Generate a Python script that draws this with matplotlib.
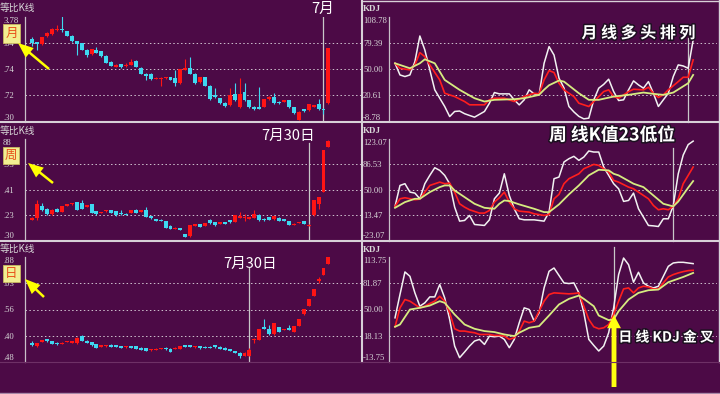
import matplotlib
matplotlib.use("Agg")
import numpy as np
import matplotlib.pyplot as plt
import matplotlib.patheffects as pe
from matplotlib.lines import Line2D
from matplotlib.patches import Rectangle, FancyArrowPatch

# 月K线 (61根)
month_o = [78.8, 75.6, 74.0, 81.4, 83.7, 87.2, 88.2, 86.2, 82.1, 76.6, 75.0, 68.6, 64.4, 68.6, 67.0, 62.8, 57.4, 52.6, 54.8, 52.9,
           54.2, 58.0, 51.6, 45.5, 45.5, 40.7, 41.0, 41.3, 42.3, 41.3, 36.5, 49.4, 51.0, 45.5, 37.5, 42.3, 34.0, 25.3, 22.1, 17.9,
           15.7, 26.0, 13.5, 28.5, 20.5, 14.1, 14.1, 14.1, 21.2, 23.7, 18.9, 18.9, 20.5, 13.5, 1.9, 11.5, 10.9, 14.1, 16.3, 12.2, 17.3]
month_c = [75.0, 74.4, 80.4, 84.6, 88.5, 88.2, 87.2, 82.1, 76.6, 74.4, 68.6, 63.8, 69.2, 66.0, 62.8, 56.4, 53.2, 54.5, 51.9, 54.2,
           57.4, 52.6, 45.5, 43.6, 40.4, 42.0, 42.0, 42.3, 39.7, 36.5, 50.0, 51.6, 45.5, 36.5, 42.3, 34.0, 21.2, 23.1, 17.3, 14.7,
           25.3, 20.5, 26.3, 20.5, 13.5, 11.5, 12.2, 21.2, 23.7, 17.3, 17.3, 20.5, 13.5, 7.7, 9.3, 9.9, 16.3, 15.7, 11.5, 10.9, 70.2]
month_h = [80.8, 76.0, 80.8, 86.0, 89.0, 92.6, 100.6, 87.0, 82.5, 77.0, 75.5, 69.0, 69.8, 71.2, 67.5, 63.2, 58.0, 55.0, 55.5, 56.0,
           59.6, 59.0, 52.5, 46.0, 46.0, 42.5, 42.5, 43.0, 43.0, 49.4, 50.5, 59.6, 61.5, 46.0, 43.0, 43.0, 34.5, 31.7, 22.5, 18.3,
           31.7, 36.5, 41.3, 37.2, 21.0, 14.5, 32.7, 21.6, 24.2, 27.6, 19.3, 21.0, 21.0, 14.0, 9.7, 12.0, 16.8, 16.2, 21.2, 12.6, 70.5]
month_l = [71.8, 68.6, 73.5, 81.0, 83.0, 87.0, 86.0, 81.5, 76.0, 63.8, 68.0, 61.5, 64.0, 65.5, 62.0, 56.0, 52.8, 52.3, 51.5, 52.5,
           54.0, 52.0, 45.0, 39.7, 40.0, 40.3, 34.0, 41.0, 39.3, 34.0, 36.0, 49.0, 45.0, 36.0, 37.0, 33.5, 20.8, 22.7, 17.0, 14.3,
           15.3, 20.0, 13.0, 20.0, 13.0, 11.0, 11.8, 13.8, 20.8, 17.0, 17.0, 18.5, 13.0, 7.3, 1.5, 9.5, 10.5, 13.8, 11.0, 7.0, 16.5]

# 周K线
week_o = [20.6, 22.2, 33.7, 31.4, 25.8, 31.4, 28.1, 34.3, 35.6, 37.9, 36.9, 33.0, 35.6, 28.8, 27.1, 28.8, 29.7, 29.1, 27.1, 26.5,
          27.1, 30.4, 28.4, 29.7, 23.8, 21.2, 20.6, 19.3, 14.7, 11.8, 12.4, 6.2, 4.2, 14.7, 16.0, 14.7, 19.9, 18.3, 16.7, 18.3,
          19.9, 18.3, 22.5, 22.2, 21.6, 22.2, 25.5, 21.6, 23.2, 20.9, 22.5, 20.9, 19.3, 15.4, 17.3, 19.0, 14.1, 24.8, 36.3, 47.7, 92.5]
week_c = [22.2, 36.3, 29.7, 25.8, 30.4, 28.1, 33.7, 35.6, 36.9, 30.4, 31.4, 34.6, 27.1, 25.8, 28.1, 29.7, 27.1, 24.8, 25.8, 25.5,
          29.7, 27.1, 29.7, 23.2, 21.9, 19.3, 19.3, 12.7, 11.8, 12.7, 10.8, 3.6, 15.0, 16.0, 13.4, 17.3, 17.3, 15.0, 18.3, 16.7,
          18.0, 24.8, 24.2, 23.5, 23.2, 25.8, 19.9, 19.9, 20.6, 24.2, 19.3, 19.3, 15.4, 16.7, 18.3, 16.3, 15.7, 39.5, 42.8, 89.2, 98.4]
week_h = [22.8, 40.2, 36.9, 31.8, 30.8, 31.8, 34.0, 36.0, 37.3, 38.3, 39.5, 35.0, 36.0, 29.1, 28.4, 30.1, 30.1, 29.5, 30.4, 26.8,
          30.1, 30.8, 30.1, 33.0, 24.2, 21.6, 20.9, 19.6, 15.0, 13.0, 12.7, 6.5, 15.4, 16.3, 16.3, 17.6, 20.9, 18.6, 18.6, 18.6,
          20.2, 25.2, 28.1, 26.5, 23.5, 30.4, 25.8, 21.9, 23.5, 24.5, 22.8, 21.2, 19.6, 17.0, 18.6, 19.3, 16.0, 40.0, 43.2, 89.5, 98.8]
week_l = [20.3, 20.6, 29.3, 25.4, 25.4, 27.8, 27.8, 34.0, 35.3, 29.7, 31.0, 32.7, 26.8, 25.4, 26.8, 28.4, 26.8, 24.5, 25.4, 25.2,
          26.8, 26.8, 28.1, 22.8, 21.6, 19.0, 19.0, 12.4, 11.5, 11.5, 10.5, 3.3, 3.9, 14.4, 13.1, 14.4, 16.0, 14.7, 16.4, 16.4,
          17.7, 18.0, 22.2, 19.3, 21.3, 21.9, 19.6, 19.6, 20.3, 20.6, 19.0, 19.0, 15.1, 15.1, 17.0, 16.0, 13.8, 24.5, 31.4, 47.4, 92.2]

# 日K线
day_o = [17.7, 15.2, 19.0, 21.5, 19.9, 18.4, 17.1, 19.0, 18.4, 17.7, 24.7, 19.6, 19.0, 16.8, 14.6, 14.9, 16.5, 15.8, 15.2, 13.9,
         14.9, 15.2, 13.6, 13.0, 11.1, 11.7, 12.3, 13.6, 12.7, 12.3, 12.7, 15.8, 15.8, 13.9, 14.9, 14.6, 14.6, 15.8, 14.6, 13.6,
         12.0, 10.4, 8.9, 5.7, 5.7, 20.9, 20.9, 33.5, 31.6, 26.3, 33.5, 30.4, 32.3, 28.5, 34.2, 45.3, 53.2, 63.3, 77.2, 83.2, 93.4]
day_c = [15.8, 17.7, 20.9, 19.6, 17.4, 16.8, 18.4, 19.9, 19.6, 23.1, 19.9, 18.4, 15.8, 13.6, 15.8, 15.8, 14.6, 14.2, 13.3, 15.2,
         13.3, 12.7, 11.4, 10.4, 12.0, 12.7, 13.3, 12.0, 9.8, 13.6, 15.2, 14.6, 14.6, 15.2, 13.0, 13.3, 13.3, 13.9, 12.7, 11.4,
         10.4, 8.9, 5.7, 8.9, 11.4, 22.1, 31.6, 31.6, 26.3, 36.7, 28.5, 31.6, 30.4, 34.2, 41.1, 50.6, 60.1, 69.6, 79.1, 89.6, 100.0]
day_h = [19.9, 18.0, 21.2, 21.8, 20.2, 18.7, 18.7, 20.2, 19.9, 23.4, 25.7, 20.9, 19.3, 17.1, 16.1, 16.1, 16.8, 16.1, 15.5, 15.5,
         15.2, 15.5, 13.9, 13.3, 12.3, 13.0, 13.6, 13.9, 13.0, 13.9, 15.5, 16.1, 16.1, 15.5, 15.2, 14.9, 14.9, 16.1, 14.9, 13.9,
         12.3, 10.7, 9.2, 9.2, 13.0, 22.4, 31.9, 40.5, 35.0, 37.0, 33.8, 31.9, 34.8, 34.5, 41.4, 50.9, 60.4, 69.9, 81.0, 89.9, 100.3]
day_l = [15.5, 14.6, 18.7, 19.3, 17.1, 16.5, 16.8, 18.7, 18.1, 17.4, 19.6, 18.1, 15.5, 13.3, 14.3, 14.6, 14.3, 13.9, 13.0, 13.6,
         13.0, 12.4, 11.1, 10.1, 10.8, 11.4, 12.0, 11.7, 9.5, 12.0, 12.4, 14.3, 14.3, 13.6, 12.7, 13.0, 13.0, 13.6, 12.4, 11.1,
         10.1, 8.6, 4.1, 5.4, 5.4, 18.4, 20.6, 31.3, 26.0, 26.0, 28.2, 30.1, 30.1, 28.2, 33.9, 45.0, 52.9, 63.0, 75.3, 82.9, 93.1]

# KDJ 月线
month_j_x = [0, 1, 2, 3, 4, 5, 6, 7, 8, 10, 11, 12, 13, 14, 15, 16, 18, 19, 20, 21, 23, 24, 25, 26, 27, 28, 29, 30, 31, 32,
             33, 34, 35, 36, 37, 38, 39, 40, 41, 42, 43, 44, 45, 46, 47, 48, 49, 50, 51, 52, 53, 54, 55, 56, 57, 58, 59, 60]
month_j = [56.7, 43.6, 41.8, 43.6, 58.6, 87.4, 71.7, 49.3, 26.8, 8.1, -3.2, 2.5, 3.0, 0.0, -2.0, -3.9, 2.5, 11.8, 23.8, 22.3,
           22.3, 15.6, 9.9, 15.6, 26.8, 22.3, 21.2, 56.7, 75.5, 66.0, 40.0, 29.0, 8.1, 2.0, -3.0, -5.8, -5.0, 15.6, 28.7, 33.0,
           38.8, 24.9, 14.8, 15.6, 26.8, 36.9, 32.4, 28.7, 36.1, 23.0, 8.1, 15.6, 23.0, 41.8, 54.9, 53.7, 51.1, 82.9]
month_k_x = [0, 1, 3, 4, 5, 6, 7, 9, 10, 12, 14, 15, 18, 19, 20, 22, 24, 26, 28, 29, 30, 31, 32, 33, 34, 36, 37, 39, 40, 42,
             43, 44, 45, 47, 48, 50, 51, 52, 53, 54, 55, 57, 58, 59, 60]
month_k = [56.7, 51.0, 49.3, 54.9, 68.7, 64.2, 54.9, 38.0, 23.0, 19.3, 13.7, 10.0, 10.0, 15.6, 17.4, 17.4, 13.7, 19.3, 23.0, 22.3,
           38.0, 48.5, 46.3, 34.3, 26.8, 19.3, 11.8, 8.1, 13.7, 24.9, 26.8, 19.3, 17.4, 24.9, 27.5, 26.8, 29.8, 23.0, 18.2, 21.2,
           26.8, 36.1, 41.0, 41.0, 60.5]
month_d_x = [0, 3, 5, 6, 8, 10, 13, 16, 18, 20, 24, 26, 29, 30, 31, 33, 34, 37, 39, 41, 44, 47, 50, 52, 54, 56, 59, 60]
month_d = [56.7, 51.1, 56.7, 61.2, 56.7, 38.0, 26.8, 17.4, 13.7, 15.6, 16.3, 17.4, 21.2, 27.0, 32.0, 37.3, 36.1, 23.0, 15.6, 15.6,
           19.3, 21.2, 23.8, 22.3, 21.2, 23.8, 34.3, 43.6]

# KDJ 周线
week_j_x = [0, 1, 2, 3, 4, 5, 6, 7, 8, 9, 10, 11, 12, 13, 14, 15, 16, 18, 19, 20, 21, 22, 23, 24, 25, 26, 28, 30, 31, 32,
            33, 34, 35, 36, 37, 38, 39, 40, 41, 42, 43, 44, 45, 46, 47, 48, 49, 50, 51, 52, 53, 54, 55, 56, 57, 58, 59, 60]
week_j = [26.0, 56.2, 58.7, 46.6, 45.2, 37.0, 58.7, 70.7, 81.7, 77.9, 70.7, 58.7, 25.0, 4.8, 5.8, 13.0, 0.0, -1.4, 6.7, 37.0,
          45.2, 73.0, 41.8, 22.6, 8.2, 6.7, 6.7, 4.8, 17.8, 65.9, 68.3, 89.9, 94.7, 98.1, 92.3, 97.1, 105.8, 104.3, 104.3, 82.7,
          70.7, 58.7, 51.4, 33.2, 34.6, 45.2, 22.6, 10.6, -1.4, -2.0, -2.9, 8.2, 8.2, 27.0, 73.0, 100.0, 115.0, 120.0]
week_k_x = [0, 1, 2, 4, 5, 6, 7, 9, 10, 11, 12, 13, 14, 15, 17, 18, 19, 20, 21, 22, 23, 24, 25, 27, 28, 30, 31, 32, 33, 34,
            35, 37, 38, 40, 41, 43, 44, 45, 47, 48, 49, 51, 52, 53, 54, 55, 56, 57, 58, 59, 60]
week_k = [26.0, 37.0, 38.5, 35.6, 36.5, 46.6, 56.2, 61.0, 58.7, 59.6, 46.6, 29.8, 25.0, 21.2, 16.4, 16.4, 20.2, 32.2, 38.5, 46.6,
          32.2, 22.6, 19.2, 17.8, 15.4, 13.0, 14.4, 37.0, 43.3, 58.7, 65.9, 73.0, 80.3, 86.5, 85.1, 75.5, 63.5, 61.0, 53.8, 51.4,
          46.6, 37.0, 27.4, 21.2, 22.6, 21.2, 26.0, 37.0, 58.7, 70.7, 82.7]
week_d_x = [0, 2, 4, 5, 7, 9, 10, 11, 12, 14, 16, 18, 20, 21, 22, 23, 25, 28, 30, 31, 33, 35, 37, 39, 41, 43, 44, 45, 48, 50,
            52, 54, 56, 57, 58, 59, 60]
week_d = [24.0, 32.2, 37.0, 37.0, 46.6, 53.8, 56.2, 56.2, 49.0, 39.4, 29.8, 24.0, 22.6, 29.8, 34.6, 33.7, 28.9, 22.6, 17.8, 17.8,
          28.9, 43.3, 56.2, 70.7, 78.8, 77.9, 73.0, 70.7, 58.7, 53.8, 41.8, 29.8, 26.0, 33.0, 43.0, 53.0, 62.5]

# KDJ 日线
day_j_x = list(range(0, 33)) + list(range(34, 61))
day_j = [39.9, 68.2, 95.6, 90.3, 70.2, 54.0, 58.1, 65.3, 65.3, 80.3, 64.1, 37.9, 5.6, -8.5, -1.6, 5.6, 11.7, 13.7, 7.6, 17.7,
         16.9, 17.7, 13.7, 3.6, 13.7, 33.9, 52.0, 50.0, 35.9, 46.0, 76.2, 96.4, 100.4,
         82.3, 81.5, 82.3, 70.2, 46.0, 13.7, 6.4, -0.4, 5.6, 21.8, 52.0, 92.4, 112.5, 104.4, 83.1, 95.2, 82.3, 78.2, 76.2, 78.2,
         90.3, 102.4, 106.5, 107.3, 107.3, 106.5, 105.7]
day_k_x = list(range(0, 33)) + list(range(34, 61))
day_k = [29.0, 52.0, 62.1, 60.1, 56.1, 52.0, 54.0, 57.3, 60.1, 66.1, 60.1, 46.0, 26.6, 23.8, 23.8, 22.6, 21.8, 19.7, 19.7, 19.7,
         18.5, 18.5, 17.7, 13.7, 15.7, 23.8, 35.9, 33.9, 35.9, 48.0, 60.1, 68.2, 70.2,
         69.4, 69.0, 69.4, 70.2, 54.0, 37.9, 29.0, 26.6, 27.8, 31.8, 43.9, 60.1, 75.0, 76.2, 70.2, 76.2, 78.2, 77.4, 75.0, 75.0,
         82.3, 89.5, 92.4, 94.4, 96.0, 97.2, 97.6]
day_d_x = [0, 1, 3, 5, 7, 9, 10, 12, 14, 16, 18, 20, 22, 24, 25, 27, 29, 31, 33, 35, 37, 38, 40, 41, 43, 44, 45, 47, 49, 51,
           53, 55, 58, 60]
day_d = [29.0, 31.8, 50.0, 52.0, 54.8, 60.1, 58.1, 43.9, 31.8, 26.6, 23.8, 22.6, 19.7, 17.7, 21.8, 27.8, 29.8, 42.7, 56.1, 62.9,
         66.9, 62.9, 54.0, 42.7, 37.1, 37.9, 48.0, 62.1, 70.2, 73.4, 74.2, 83.1, 89.5, 94.4]

# 坐标刻度文字
kline_ticks = [0, 25, 50, 75, 100]
month_tick_labels = [".30", ".72", ".74", ".64", "3.78"]
week_tick_labels = [".30", ".23", ".41", ".93", "88"]
day_tick_labels = [".48", ".40", ".56", ".03", ".88"]
month_kdj_ticks = [-8.78, 20.61, 50.00, 79.39, 108.78]
week_kdj_ticks = [-23.07, 13.47, 50.00, 86.53, 123.07]
day_kdj_ticks = [-13.75, 18.13, 50.00, 81.87, 113.75]
mark_idx = [59, 56, 44]
period_chars = ["月", "周", "日"]
date_labels = ["7月", "7月30日", "7月30日"]
notes = ["月 线 多 头 排 列", "周 线K值23低位", "日 线 KDJ 金 叉"]

W, H = 720, 394
BG = "#4c0a46"
RED = "#ff1414"
CYAN = "#3ed8f0"
GRID = "#d0c4d0"
AXIS = "#c8c0c8"
TICK = "#d8d8d8"
SEP = "#d8d0d8"

plt.rcParams["font.family"] = ["Noto Sans CJK SC", "DejaVu Sans"]


def rect(x0, y0, x1, y1):
    return [x0 / W, 1 - y1 / H, (x1 - x0) / W, (y1 - y0) / H]


def fxy(x, y):
    return (x / W, 1 - y / H)


def line(fig, x0, y0, x1, y1, color, lw):
    fig.add_artist(Line2D([x0 / W, x1 / W], [1 - y0 / H, 1 - y1 / H],
                          transform=fig.transFigure, color=color, lw=lw))


def style_axis(ax, ticks, labels, pad):
    ax.set_facecolor("none")
    for s in ["top", "right", "bottom"]:
        ax.spines[s].set_visible(False)
    ax.spines["left"].set_color(AXIS)
    ax.spines["left"].set_linewidth(0.9)
    ax.set_xticks([])
    ax.set_yticks(ticks)
    ax.set_yticklabels(labels, fontsize=6.2, color=TICK, family="Liberation Serif")
    ax.tick_params(axis="y", length=0, pad=pad)
    tl = ax.get_yticklabels()
    for t in tl:
        t.set_horizontalalignment("left")
    tl[0].set_verticalalignment("bottom")
    tl[-1].set_verticalalignment("top")
    for v in ticks[1:-1]:
        ax.axhline(v, color=GRID, lw=0.7, ls=(0, (1.5, 2.5)), zorder=0)


def draw_candles(ax, o, c, h, l):
    o, c, h, l = map(np.asarray, (o, c, h, l))
    x = np.arange(len(o))
    cols = np.where(c >= o, RED, CYAN)
    ax.vlines(x, l, h, colors=cols, lw=0.8, zorder=2)
    body = np.maximum(np.abs(c - o), 1.0)
    ax.bar(x, body, bottom=np.minimum(o, c), width=0.8, color=cols, linewidth=0, zorder=3)
    ax.set_xlim(-1.48, 66.6)
    ax.set_ylim(0, 100)


fig = plt.figure(figsize=(W / 100, H / 100), dpi=100, facecolor=BG)

rows = [(17, 121.5), (139, 240.5), (257, 362)]
candles = [(month_o, month_c, month_h, month_l),
           (week_o, week_c, week_h, week_l),
           (day_o, day_c, day_h, day_l)]
kline_labels = [month_tick_labels, week_tick_labels, day_tick_labels]
kdj_ticks = [month_kdj_ticks, week_kdj_ticks, day_kdj_ticks]
kdj_lines = [((month_j_x, month_j), (month_k_x, month_k), (month_d_x, month_d)),
             ((week_j_x, week_j), (week_k_x, week_k), (week_d_x, week_d)),
             ((day_j_x, day_j), (day_k_x, day_k), (day_d_x, day_d))]
# 竖线高度 (轴比例)
mark_left_top = [1.0, 0.96, 0.895]
mark_right_top = [0.80, 0.91, 1.095]

for r, (top, bot) in enumerate(rows):
    axl = fig.add_axes(rect(25, top, 361, bot))
    draw_candles(axl, *candles[r])
    style_axis(axl, kline_ticks, kline_labels[r], 15.8)
    axl.axvline(mark_idx[r], ymin=0, ymax=mark_left_top[r], color="#c8c8c8", lw=0.9, zorder=1)

    axr = fig.add_axes(rect(389, top, 717, bot))
    lo, hi = kdj_ticks[r][0], kdj_ticks[r][-1]
    axr.set_ylim(lo, hi)
    axr.set_xlim(-1.21, 64.8)
    style_axis(axr, kdj_ticks[r], ["%.2f" % v for v in kdj_ticks[r]], 18.7)
    (jx, jv), (kx, kv), (dx, dv) = kdj_lines[r]
    axr.plot(jx, jv, color="#f2f2f2", lw=1.1, zorder=3)
    axr.plot(kx, kv, color="#ff1e1e", lw=1.2, zorder=4)
    axr.plot(dx, dv, color="#d6ec80", lw=1.3, zorder=5)
    axr.axvline(mark_idx[r], ymin=0, ymax=mark_right_top[r], color="#c8c8c8", lw=0.9,
                zorder=2, clip_on=False)

# 面板标题
for y in [8, 131, 249]:
    fig.text(*fxy(0, y), "等比K线", fontsize=7, color=TICK, ha="left", va="center")
for y in [9, 131, 250]:
    fig.text(*fxy(363, y), "KDJ", fontsize=6.5, color=TICK, ha="left", va="center",
             family="Liberation Serif", fontweight="bold")

# 分隔线
line(fig, 0, 121.5, 720, 121.5, SEP, 1.5)
line(fig, 0, 240.5, 720, 240.5, SEP, 1.5)
line(fig, 362, 0, 362, 361.5, SEP, 1.5)
line(fig, 718.6, 0, 718.6, 361.5, SEP, 1.0)
line(fig, 362, 0.6, 720, 0.6, SEP, 1.0)
line(fig, 0, 362, 720, 362, "#6e3066", 0.8)
line(fig, 0, 393.3, 720, 393.3, "#a888a8", 1.0)

# 日期标注
for (cx, cy), s in zip([(322.5, 9), (288.5, 136), (250, 264)], date_labels):
    fig.text(*fxy(cx, cy), s, fontsize=10.5, color="white", ha="center", va="center")

# 右侧说明文字
for (cx, cy), s, fs in zip([(638.5, 33), (612, 135.5), (666, 337.5)], notes, [11.5, 12.8, 10.0]):
    fig.text(*fxy(cx, cy), s, fontsize=fs, color="white", ha="center", va="center",
             fontweight="bold",
             path_effects=[pe.withStroke(linewidth=2.2, foreground="#1c1020")])

# 月/周/日 标签框与小箭头
boxes = [(3, 24, 20, 43), (3, 147, 19, 164), (3, 265, 20, 282)]
arrows = [((49, 69), (18, 43)), ((53, 183), (28, 163)), ((44, 297), (25, 279))]
for (x0, y0, x1, y1), ch, (tail, tip) in zip(boxes, period_chars, arrows):
    fig.add_artist(Rectangle(fxy(x0, y1), (x1 - x0) / W, (y1 - y0) / H, transform=fig.transFigure,
                             facecolor="#f2ee92", edgecolor="#c8b860", lw=0.6))
    fig.text(*fxy((x0 + x1) / 2, (y0 + y1) / 2), ch, fontsize=9, color="#e8501a",
             ha="center", va="center")
    fig.add_artist(FancyArrowPatch(fxy(*tail), fxy(*tip), transform=fig.transFigure,
                                   arrowstyle="simple,head_length=1.1,head_width=0.9,tail_width=0.18",
                                   mutation_scale=10, color="#ffff00", lw=0,
                                   shrinkA=0, shrinkB=0))

# 日线金叉大箭头
fig.add_artist(FancyArrowPatch(fxy(614, 387), fxy(614, 315), transform=fig.transFigure,
                               arrowstyle="simple,head_length=0.95,head_width=1.0,tail_width=0.35",
                               mutation_scale=10, color="#ffff10", lw=0,
                               shrinkA=0, shrinkB=0))

fig.savefig("out.png", dpi=100, facecolor=fig.get_facecolor())
